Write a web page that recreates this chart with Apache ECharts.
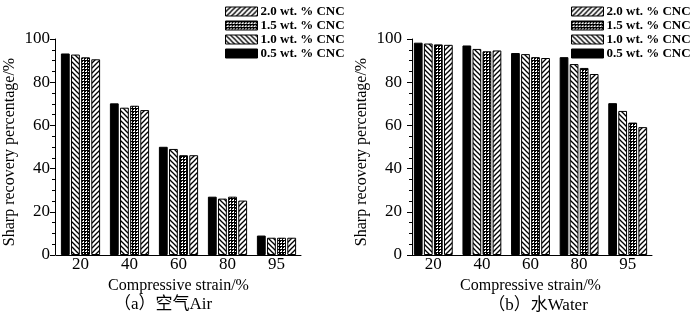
<!DOCTYPE html>
<html>
<head>
<meta charset="utf-8">
<script src="https://cdn.jsdelivr.net/npm/echarts@6/dist/echarts.min.js"></script>
<style>
  html, body { margin: 0; padding: 0; background: #fff; }
  #chart { width: 700px; height: 320px; }
</style>
</head>
<body>
<div id="chart"></div>
<script>
// compressive strain categories (%)
const strains = ['20', '40', '60', '80', '95']
const seriesNames = ['0.5 wt. % CNC', '1.0 wt. % CNC', '1.5 wt. % CNC', '2.0 wt. % CNC']
const legendOrder = ['2.0 wt. % CNC', '1.5 wt. % CNC', '1.0 wt. % CNC', '0.5 wt. % CNC']
const yTicks = [0, 20, 40, 60, 80, 100]

// (a) air
const air05 = [93.3, 70.2, 50.1, 27.0, 9.0]
const air10 = [92.8, 68.2, 49.1, 26.1, 8.0]
const air15 = [91.5, 69.1, 46.2, 27.0, 8.0]
const air20 = [90.6, 67.1, 46.2, 25.2, 8.0]

// (b) water
const water05 = [98.3, 97.0, 93.5, 91.6, 70.3]
const water10 = [97.9, 95.4, 93.0, 88.4, 66.7]
const water15 = [97.5, 94.3, 91.6, 86.6, 61.3]
const water20 = [97.3, 94.7, 91.2, 83.8, 59.2]

const serif = '"Liberation Serif", "Times New Roman", serif'
const cjk = '"Liberation Serif", "Noto Sans CJK SC", serif'

// hatch patterns drawn on small canvases
function makePattern(kind) {
  const s = kind === 'cross' ? 3 : 5
  const c = document.createElement('canvas')
  c.width = s
  c.height = s
  const ctx = c.getContext('2d')
  ctx.fillStyle = '#fff'
  ctx.fillRect(0, 0, s, s)
  ctx.fillStyle = '#000'
  if (kind === 'cross') {
    ctx.fillRect(0, 0, 3, 1)
    ctx.fillRect(0, 0, 1, 3)
    ctx.fillRect(1, 1, 1, 1)
    return { image: c, repeat: 'repeat' }
  }
  ctx.strokeStyle = '#000'
  ctx.lineWidth = 1.3
  for (let k = -1; k <= 1; k++) {
    ctx.beginPath()
    if (kind === 'fwd') {
      ctx.moveTo(k * s - 1, s + 1)
      ctx.lineTo(k * s + s + 1, -1)
    } else {
      ctx.moveTo(k * s - 1, -1)
      ctx.lineTo(k * s + s + 1, s + 1)
    }
    ctx.stroke()
  }
  return { image: c, repeat: 'repeat' }
}

const fills = ['#000', makePattern('back'), makePattern('cross'), makePattern('fwd')]

function makeSeries(dataList, idx) {
  return dataList.map((d, i) => ({
    name: seriesNames[i],
    type: 'bar',
    xAxisIndex: idx,
    yAxisIndex: idx,
    data: d,
    barGap: '15%',
    barCategoryGap: '20%',
    itemStyle: { color: fills[i], borderColor: '#000', borderWidth: 1 },
    emphasis: { disabled: true },
    animation: false
  }))
}

function xAxisOf(idx) {
  return {
    type: 'category',
    gridIndex: idx,
    data: strains,
    axisLine: { lineStyle: { color: '#000', width: 1 } },
    axisTick: { show: false },
    axisLabel: { color: '#000', fontFamily: serif, fontSize: 17, margin: 1 },
    name: 'Compressive strain/%',
    nameLocation: 'middle',
    nameGap: 19,
    nameTextStyle: { color: '#000', fontFamily: serif, fontSize: 16 }
  }
}

function yAxisOf(idx, gap, offset, labelMargin) {
  return {
    type: 'value',
    gridIndex: idx,
    min: yTicks[0],
    max: yTicks[yTicks.length - 1],
    interval: yTicks[1] - yTicks[0],
    offset: offset,
    axisLine: { show: true, lineStyle: { color: '#000', width: 1 } },
    axisTick: { show: true, length: 5, lineStyle: { color: '#000' } },
    minorTick: { show: true, splitNumber: 4, length: 3, lineStyle: { color: '#000' } },
    splitLine: { show: false },
    axisLabel: { color: '#000', fontFamily: serif, fontSize: 17, margin: labelMargin },
    name: 'Sharp recovery percentage/%',
    nameLocation: 'middle',
    nameGap: gap,
    nameTextStyle: { color: '#000', fontFamily: serif, fontSize: 16, padding: [0, 0, 0, -10] }
  }
}

function legendOf(left) {
  return {
    data: legendOrder,
    orient: 'vertical',
    left: left,
    top: 0,
    itemWidth: 32,
    itemHeight: 9,
    itemGap: 1,
    icon: 'rect',
    selectedMode: false,
    itemStyle: { borderColor: '#000', borderWidth: 1 },
    textStyle: { color: '#000', fontFamily: serif, fontSize: 13, fontWeight: 'bold', padding: [0, 0, 0, -2] }
  }
}

const chart = echarts.init(document.getElementById('chart'), null, { renderer: 'canvas' })
chart.setOption({
  backgroundColor: '#fff',
  animation: false,
  legend: [legendOf(220), legendOf(566)],
  grid: [
    { left: 56, width: 245, top: 39, bottom: 65 },
    { left: 409, width: 243, top: 39, bottom: 65 }
  ],
  xAxis: [xAxisOf(0), xAxisOf(1)],
  yAxis: [yAxisOf(0, 37, 1, 5), yAxisOf(1, 42, -3, 10)],
  series: makeSeries([air05, air10, air15, air20], 0)
    .concat(makeSeries([water05, water10, water15, water20], 1)),
  graphic: [
    { type: 'text', x: 163, y: 305, style: { text: '（a）空气Air', font: '17px ' + cjk, fill: '#000', align: 'center', verticalAlign: 'middle' } },
    { type: 'text', x: 538, y: 306, style: { text: '（b）水Water', font: '17px ' + cjk, fill: '#000', align: 'center', verticalAlign: 'middle' } }
  ]
})
</script>
</body>
</html>
